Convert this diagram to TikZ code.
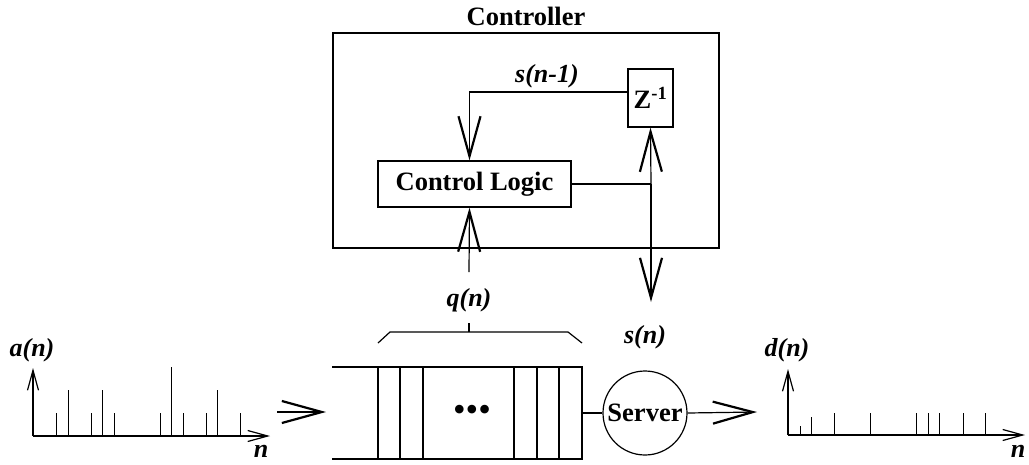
\documentclass[tikz,border=0pt]{standalone}
\usepackage{fontspec}
\setmainfont{Liberation Serif}
\usetikzlibrary{arrows.meta,calc}

\tikzset{
    box/.style={draw, inner sep=0pt},
    bold/.style={font=\fontsize{26.5}{28}\selectfont\bfseries},
    sig/.style={font=\fontsize{26}{28}\selectfont\bfseries\itshape},
    bigtip/.style={-{Straight Barb[length=40pt,width=22pt,line width=2.2pt]}},
    axistip/.style={-{Straight Barb[length=20pt,width=11pt,line width=1.2pt]}},
    spike/.style={line width=0.9pt},
}

\begin{document}
\begin{tikzpicture}[x=1pt, y=-1pt, line width=1.2pt]

    \useasboundingbox (0,0) rectangle (1029,464);

    % Controller box with control logic and delay
    \node[bold] (title) at (526,16) {Controller};
    \node[box, minimum width=386, minimum height=215] (ctrl) at (526,140.5) {};
    \node[box, bold, minimum width=193, minimum height=46] (logic) at (474.5,184) {Control Logic};
    \node[box, bold, minimum width=45, minimum height=58] (delay) at (650.5,98) {Z\textsuperscript{-1}};

    \coordinate (jn) at (651,184);
    \coordinate (qtop) at (469,272);
    \coordinate (sbot) at (651,302);

    % feedback s(n-1)
    \draw[bigtip] ([yshift=6pt]delay.west) -| ([xshift=-5pt]logic.north);
    \node[sig] (snm) at (547,76) {s(n-1)};

    % control output, to the delay and down to the server
    \draw (logic.east) -- (jn);
    \draw[bigtip] (jn) -- (delay.south);
    \draw[bigtip] (jn) -- (sbot);

    % queue length into the logic
    \draw[bigtip] (qtop) -- ([xshift=-5pt]logic.south);

    % Queue
    \draw (332,367) -- (582,367) -- (582,459) -- (332,459);
    \foreach \x in {378,400,423,514,537,559}
        \draw (\x,367) -- (\x,459);
    \node[font=\fontsize{36}{38}\selectfont] (dots) at (472,413) {•••};
    \node[sig] (qn) at (469,300) {q(n)};
    \draw (378,343) -- (390,332) -- (568,332) -- (582,343);
    \draw (469,332) -- (469,323);

    % Server
    \node[circle, draw, bold, minimum size=84, inner sep=0pt] (server) at (645,413) {Server};
    \node[sig] (sn) at (645,337) {s(n)};
    \coordinate (qout) at (582,413);
    \draw (qout) -- (server.west);

    % arrivals in, departures out
    \coordinate (ain) at (277,412);
    \coordinate (qin) at (326,412);
    \coordinate (dout) at (757,412);
    \draw[bigtip] (ain) -- (qin);
    \draw[bigtip] (server.east) -- (dout);

    % arrival process a(n)
    \coordinate (ao) at (33,436);
    \draw[axistip] (ao) -- (33,368);
    \draw[axistip] (ao) -- (270,436);
    \foreach \x/\h in {56/23,68/46,91/23,102/46,114/23,160/23,171/69,183/23,206/23,217/46,240/23}
        \draw[spike] (\x,436) -- ++(0,-\h);
    \node[sig] (an) at (32,350) {a(n)};
    \node[sig] (anx) at (261,451) {n};

    % departure process d(n)
    \coordinate (do) at (788,435);
    \draw[axistip] (do) -- (788,369);
    \draw[axistip] (do) -- (1025,435);
    \foreach \x/\h in {800/9,811/18,834/22,870/22,916/22,928/22,939/22,963/22,985/22}
        \draw[spike] (\x,435) -- ++(0,-\h);
    \node[sig] (dn) at (787,350) {d(n)};
    \node[sig] (dnx) at (1018,451) {n};

\end{tikzpicture}
\end{document}
